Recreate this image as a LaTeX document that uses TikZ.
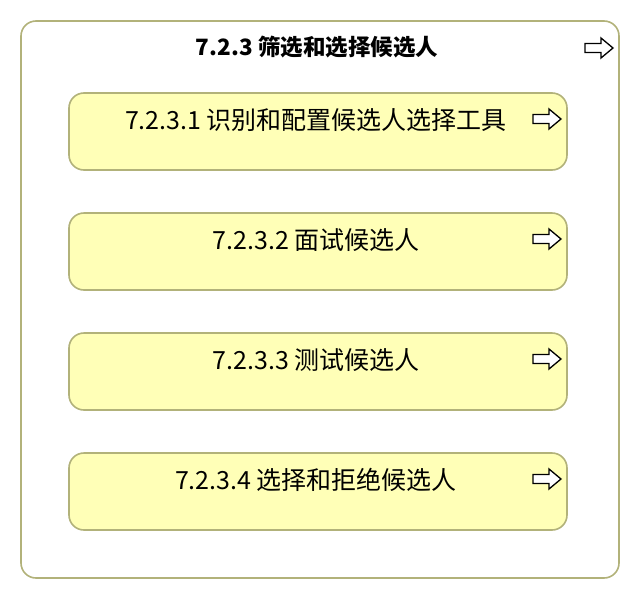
\documentclass[tikz,border=0pt]{standalone}
\usepackage{fontspec}
\setmainfont{Noto Sans CJK SC}
\begin{document}
\begin{tikzpicture}[x=1pt,y=-1pt,
  outerbox/.style={draw=boxline,line width=1.6pt,rounded corners=15pt,fill=white},
  childbox/.style={draw=boxline,line width=1.6pt,rounded corners=15pt,fill=childfill},
  lbl/.style={font=\fontsize{25}{30}\selectfont,anchor=center,inner sep=0pt},
  hollowarrow/.style={draw=black,line width=1.3pt,fill=white,line join=miter}]
\definecolor{boxline}{RGB}{178,178,122}
\definecolor{childfill}{RGB}{255,255,183}
\useasboundingbox (0,0) rectangle (640,600);
\draw[outerbox] (21,21) rectangle (619,578);
\node[font=\bfseries\fontsize{22.5}{26}\selectfont,inner sep=0pt] (title) at (317,47) {7.2.3 筛选和选择候选人};
\newcommand{\harrow}[2]{%
  \draw[hollowarrow] (#1,#2-4.5) -- (#1+16,#2-4.5) -- (#1+16,#2-10) -- (#1+28,#2) -- (#1+16,#2+10) -- (#1+16,#2+4.5) -- (#1,#2+4.5) -- cycle;}
\harrow{585}{48}
\foreach \y/\t [count=\i] in {93/{7.2.3.1 识别和配置候选人选择工具},213/{7.2.3.2 面试候选人},333/{7.2.3.3 测试候选人},453/{7.2.3.4 选择和拒绝候选人}}{
  \draw[childbox] (69,\y) rectangle (567,\y+77);
  \node[lbl] (c\i) at (316,\y+27) {\t};
  \harrow{533}{\y+26}
}
\end{tikzpicture}
\end{document}
